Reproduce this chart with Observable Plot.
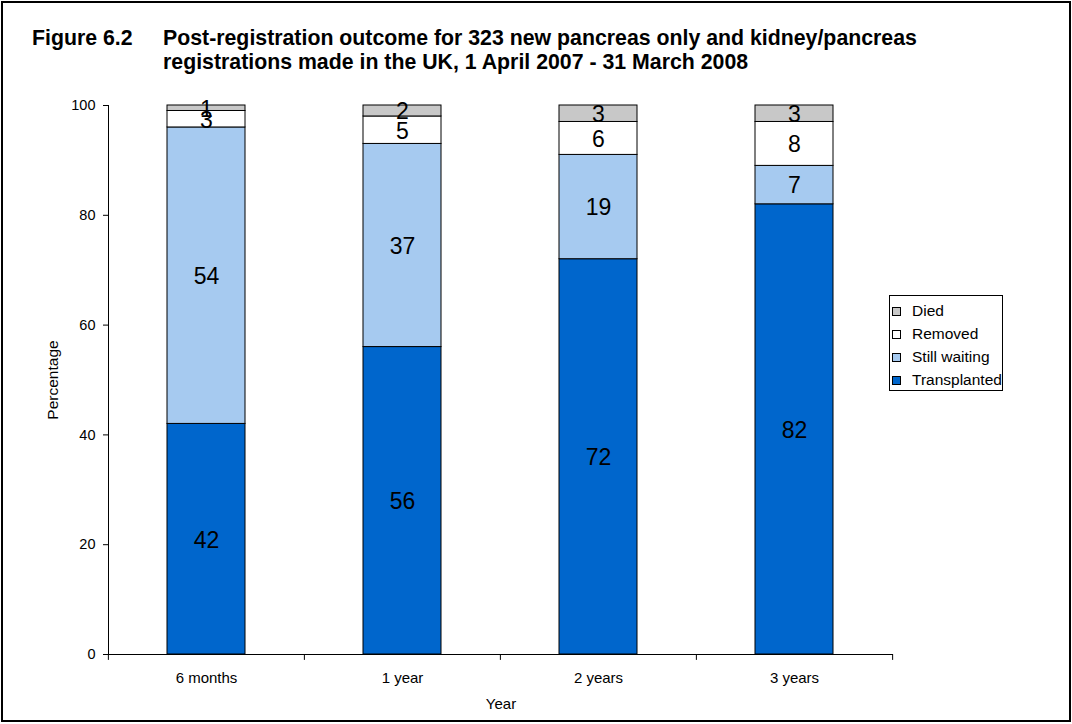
<!DOCTYPE html>
<html>
<head>
<meta charset="utf-8">
<script src="https://cdn.jsdelivr.net/npm/d3@7"></script>
<script src="https://cdn.jsdelivr.net/npm/@observablehq/plot@0.6"></script>
<style>
  body { margin: 0; background: #fff; font-family: "Liberation Sans", Arial, sans-serif; }
  #wrap { position: relative; width: 1072px; height: 724px; overflow: hidden; }
  #border { position: absolute; left: 1px; top: 1px; width: 1070px; height: 721px; border: 2px solid #000; box-sizing: border-box; }
  #title { position: absolute; left: 32px; top: 26px; font-weight: bold; font-size: 21.3px; line-height: 24px; color: #000; }
  #title .fig { position: absolute; left: 0; top: 0; white-space: nowrap; }
  #title .txt { position: absolute; left: 131px; top: 0; white-space: nowrap; }
  #chart { position: absolute; left: 0; top: 0; }
  #legend { position: absolute; left: 889px; top: 295px; width: 114px; height: 96px; border: 1px solid #000; box-sizing: border-box; background: #fff; font-size: 15.5px; }
  .li { position: absolute; left: 2px; height: 18px; display: flex; align-items: center; white-space: nowrap; }
  .sw { width: 7px; height: 7px; border: 1px solid #000; margin-right: 11px; }
</style>
</head>
<body>
<div id="wrap">
  <div id="border"></div>
  <div id="title"><span class="fig">Figure 6.2</span><span class="txt">Post-registration outcome for 323 new pancreas only and kidney/pancreas<br>registrations made in the UK, 1 April 2007 - 31 March 2008</span></div>
  <div id="chart"></div>
  <div id="legend"></div>
</div>
<script>
const periods = ["6 months", "1 year", "2 years", "3 years"];
const series = ["Transplanted", "Still waiting", "Removed", "Died"];
const transplanted = [42, 56, 72, 82];
const stillWaiting = [54, 37, 19, 7];
const removed = [3, 5, 6, 8];
const died = [1, 2, 3, 3];
const colors = ["#0066CC", "#A6CAF0", "#FFFFFF", "#C8C8C8"];
const yTicks = [0, 20, 40, 60, 80, 100];

const valuesBySeries = [transplanted, stillWaiting, removed, died];
const data = [];
periods.forEach((p, i) => {
  series.forEach((s, j) => data.push({period: p, series: s, value: valuesBySeries[j][i]}));
});

const W = 1072, H = 724;
const ml = 108, mr = 179, mt = 105, mb = 70;
const step = (W - ml - mr) / periods.length;
const font = '"Liberation Sans", Arial, sans-serif';

// category boundary ticks on the x axis (left edge of each band, plus right edge of last band)
const boundaries = periods.map((p, i) => ({period: p, dx: -step / 2}))
  .concat([{period: periods[periods.length - 1], dx: step / 2}]);
const lineShape = {draw(context, l) { context.moveTo(0, 0); context.lineTo(0, -l); }};

const chart = Plot.plot({
  width: W,
  height: H,
  marginLeft: ml,
  marginRight: mr,
  marginTop: mt,
  marginBottom: mb,
  style: {fontFamily: font, fontSize: "15px", background: "transparent", color: "#000", overflow: "visible"},
  x: {domain: periods, paddingInner: 0.6, paddingOuter: 0.3},
  y: {type: "linear", domain: [0, 100]},
  color: {domain: series, range: colors},
  marks: [
    Plot.barY(data, Plot.stackY({x: "period", y: "value", fill: "series", order: series, stroke: "#000", strokeWidth: 1})),
    Plot.text(data, Plot.stackY({x: "period", y: "value", z: "series", order: series, text: d => String(d.value), fontSize: 23, dy: 1, fill: "#000"})),
    Plot.axisY({ticks: yTicks, tickSize: 5, tickPadding: 8, fontSize: 14.5, label: null}),
    Plot.axisY({ticks: [], tickSize: 0, fontSize: 15.5, label: "Percentage", labelAnchor: "center", labelArrow: "none", labelOffset: 62}),
    Plot.axisX({tickSize: 0, tickPadding: 18, fontSize: 15, label: null}),
    Plot.axisX({ticks: [], tickSize: 0, fontSize: 15, label: "Year", labelAnchor: "center", labelArrow: "none", labelOffset: 54}),
    Plot.ruleY([0], {stroke: "#000"}),
    Plot.frame({anchor: "left", stroke: "#000"}),
    ...boundaries.map(b => Plot.vector([b], {x: "period", y: () => 0, dx: b.dx, length: 5, rotate: 180, anchor: "start", shape: lineShape, stroke: "#000", strokeWidth: 1}))
  ]
});
document.getElementById("chart").appendChild(chart);

// Legend (top to bottom: Died, Removed, Still waiting, Transplanted)
const legend = document.getElementById("legend");
series.slice().reverse().forEach((s, k) => {
  const idx = series.indexOf(s);
  const row = document.createElement("div");
  row.className = "li";
  row.style.top = (6 + k * 23) + "px";
  row.innerHTML = `<span class="sw" style="background:${colors[idx]}"></span><span>${s}</span>`;
  legend.appendChild(row);
});
</script>
</body>
</html>
